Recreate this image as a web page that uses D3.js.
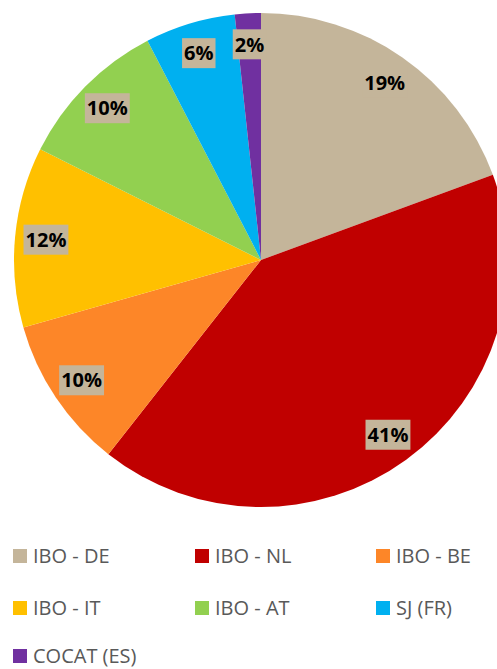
<!DOCTYPE html>
<html>
<head>
<meta charset="utf-8">
<script src="https://cdn.jsdelivr.net/npm/d3@7"></script>
<style>
  body { margin: 0; background: #ffffff; }
  svg { display: block; }
</style>
</head>
<body>
<script>
// chart data
var categories = ["IBO - DE", "IBO - NL", "IBO - BE", "IBO - IT", "IBO - AT", "SJ (FR)", "COCAT (ES)"];
var shares = [19.4, 41.2, 10.0, 11.8, 10.0, 5.9, 1.7];
var colors = ["#c4b59a", "#c00000", "#fd8628", "#ffc000", "#92d050", "#00b0f0", "#7030a0"];

var WIDTH = 497, HEIGHT = 669;
var CX = 261, CY = 260, RADIUS = 247, LABEL_R = 216;

var svg = d3.select("body").append("svg")
            .attr("width", WIDTH)
            .attr("height", HEIGHT);

var pie = d3.pie().sort(null).value(function(d) { return d; });
var arcs = pie(shares);

var arc = d3.arc().innerRadius(0).outerRadius(RADIUS);
var labelArc = d3.arc().innerRadius(LABEL_R).outerRadius(LABEL_R);

var pieGroup = svg.append("g").attr("transform", "translate(" + CX + "," + CY + ")");

pieGroup.selectAll("path.slice")
        .data(arcs)
        .enter().append("path")
        .attr("class", "slice")
        .attr("d", arc)
        .style("fill", function(d, i) { return colors[i]; });

// data labels with tan box
var labels = pieGroup.selectAll("g.data_label")
        .data(arcs)
        .enter().append("g")
        .attr("class", "data_label")
        .attr("transform", function(d) { return "translate(" + labelArc.centroid(d) + ")"; });

labels.append("rect")
      .style("fill", colors[0]);

labels.append("text")
      .attr("text-anchor", "middle")
      .attr("dy", "0.36em")
      .style("font-family", "'Open Sans', sans-serif")
      .style("font-weight", "bold")
      .style("font-size", "20px")
      .style("fill", "#000000")
      .text(function(d) { return Math.round(d.value) + "%"; });

labels.each(function() {
  var g = d3.select(this);
  var bb = g.select("text").node().getBBox();
  g.select("rect")
   .attr("x", bb.x - 2)
   .attr("y", -15)
   .attr("width", bb.width + 4)
   .attr("height", 30);
});

// legend
var legendCols = [13, 195, 376];
var legendRows = [549, 601, 649];

var legend = svg.selectAll("g.legend_item")
        .data(categories)
        .enter().append("g")
        .attr("class", "legend_item")
        .attr("transform", function(d, i) {
          return "translate(" + legendCols[i % 3] + "," + legendRows[Math.floor(i / 3)] + ")";
        });

legend.append("rect")
      .attr("width", 14)
      .attr("height", 14)
      .style("fill", function(d, i) { return colors[i]; });

legend.append("text")
      .attr("x", 20)
      .attr("y", 14)
      .style("font-family", "'Open Sans', sans-serif")
      .style("font-size", "20px")
      .style("fill", "#595959")
      .text(function(d) { return d; });
</script>
</body>
</html>
